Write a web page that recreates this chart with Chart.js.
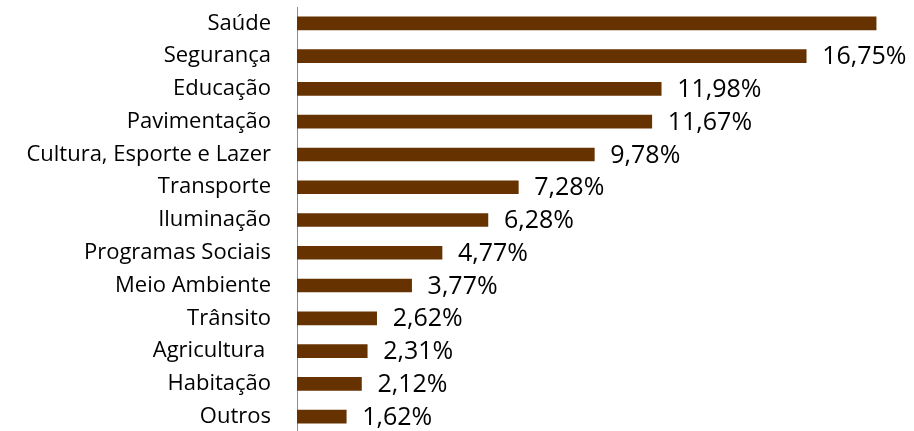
<!DOCTYPE html>
<html>
<head>
<meta charset="utf-8">
<script src="https://cdn.jsdelivr.net/npm/chart.js@4.4.1/dist/chart.umd.min.js"></script>
<style>
  html, body { margin: 0; padding: 0; background: #fff; overflow: hidden; }
  #wrap { width: 914px; height: 434px; position: relative; }
</style>
</head>
<body>
<div id="wrap"><canvas id="c" width="914" height="434"></canvas></div>
<script>
const categories = [
  'Saúde', 'Segurança', 'Educação', 'Pavimentação', 'Cultura, Esporte e Lazer',
  'Transporte', 'Iluminação', 'Programas Sociais', 'Meio Ambiente', 'Trânsito',
  'Agricultura ', 'Habitação', 'Outros'
];
const values = [19.05, 16.75, 11.98, 11.67, 9.78, 7.28, 6.28, 4.77, 3.77, 2.62, 2.31, 2.12, 1.62];

const BAR_COLOR = '#663300';

const valueLabels = {
  id: 'valueLabels',
  afterDatasetsDraw(chart) {
    const ctx = chart.ctx;
    const meta = chart.getDatasetMeta(0);
    ctx.save();
    ctx.font = '25px "Open Sans"';
    ctx.fillStyle = '#000';
    ctx.textAlign = 'left';
    ctx.textBaseline = 'middle';
    meta.data.forEach((bar, i) => {
      const txt = values[i].toFixed(2).replace('.', ',') + '%';
      const x = bar.x + 16;
      const w = ctx.measureText(txt).width;
      if (x + w > chart.width) return;
      ctx.fillText(txt, x, bar.y + 1);
    });
    ctx.restore();
  }
};

new Chart(document.getElementById('c'), {
  type: 'bar',
  data: {
    labels: categories,
    datasets: [{
      data: values,
      backgroundColor: BAR_COLOR,
      borderWidth: 0,
      barThickness: 13
    }]
  },
  options: {
    indexAxis: 'y',
    responsive: false,
    animation: false,
    layout: { padding: { top: 7, right: 9, bottom: 1, left: 0 } },
    plugins: { legend: { display: false }, tooltip: { enabled: false } },
    scales: {
      x: { display: false, min: 0, max: 20 },
      y: {
        afterFit(scale) { scale.width = 297; scale.paddingTop = 0; scale.paddingBottom = 0; },
        grid: { display: false, drawTicks: false },
        border: { display: true, color: '#8c8c8c', width: 1 },
        ticks: {
          padding: 26,
          color: '#000',
          font: { family: 'Open Sans', size: 22 }
        }
      }
    }
  },
  plugins: [valueLabels]
});
</script>
</body>
</html>
